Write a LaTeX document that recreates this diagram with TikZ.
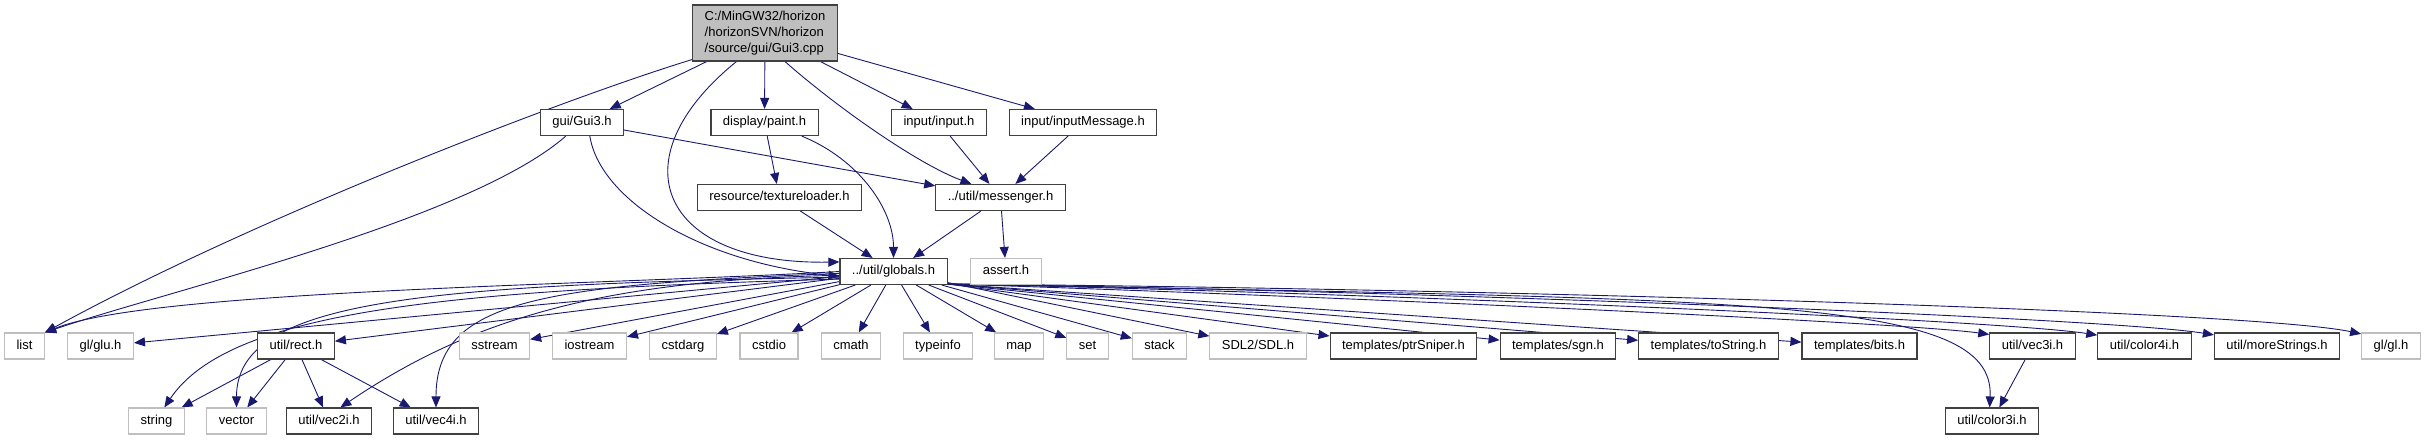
\documentclass[tikz,border=0pt]{standalone}
\usepackage{fontspec}
\setmainfont{Liberation Sans}
\usetikzlibrary{arrows.meta,backgrounds}
\definecolor{edgeblue}{RGB}{25,25,112}
\definecolor{boxgray}{RGB}{191,191,191}
\definecolor{boxedge}{RGB}{64,64,64}

\begin{document}
\begin{tikzpicture}[x=1pt,y=1pt,
    hdr/.style={draw=boxedge, fill=white, line width=1.1pt, minimum height=26pt, inner xsep=12pt, inner ysep=0pt, font=\fontsize{13}{16}\selectfont, text height=9.5pt, text depth=2.8pt},
    sys/.style={hdr, draw=boxgray},
    src/.style={draw=boxedge, fill=boxgray, line width=1.1pt, minimum width=144pt, minimum height=56pt, inner xsep=12pt, align=left, font=\fontsize{13}{16}\selectfont},
    dep/.style={edgeblue, line width=0.9pt, -{Triangle[length=11pt,width=9pt]}}]
  \useasboundingbox (0,0) rectangle (2425,-440);
  % file and its direct headers
  \node[src] (cpp) at (765,-33) {C:/MinGW32/horizon\\/horizonSVN/horizon\\/source/gui/Gui3.cpp};
  \node[hdr] (gui) at (582,-122.5) {gui/Gui3.h};
  \node[hdr] (paint) at (764.5,-122.5) {display/paint.h};
  \node[hdr] (input) at (939,-122.5) {input/input.h};
  \node[hdr] (inputmsg) at (1083,-122.5) {input/inputMessage.h};
  \node[hdr] (texload) at (779.5,-197.5) {resource/textureloader.h};
  \node[hdr] (messenger) at (1000.5,-197.5) {../util/messenger.h};
  \node[hdr] (globals) at (893.5,-271.5) {../util/globals.h};
  \node[sys] (assert) at (1006,-271.5) {assert.h};
  % row under globals.h
  \node[sys] (list) at (24.5,-346) {list};
  \node[sys] (glu) at (100.5,-346) {gl/glu.h};
  \node[hdr] (rect) at (296,-346) {util/rect.h};
  \foreach \nm/\x in {sstream/494.5, iostream/589.5, cstdarg/683, cstdio/769, cmath/851, typeinfo/938, map/1019, set/1087.5, stack/1159.5}
    \node[sys] (\nm) at (\x,-346) {\nm};
  \node[sys] (sdl) at (1258,-346) {SDL2/SDL.h};
  \node[hdr] (ptrsniper) at (1403.5,-346) {templates/ptrSniper.h};
  \node[hdr] (sgn) at (1558,-346) {templates/sgn.h};
  \node[hdr] (tostring) at (1708.5,-346) {templates/toString.h};
  \node[hdr] (bits) at (1859.5,-346) {templates/bits.h};
  \node[hdr] (vec3i) at (2032.5,-346) {util/vec3i.h};
  \node[hdr] (color4i) at (2144.5,-346) {util/color4i.h};
  \node[hdr] (morestr) at (2277,-346) {util/moreStrings.h};
  \node[sys] (gl) at (2391,-346) {gl/gl.h};
  % bottom row
  \node[sys] (string) at (156.5,-421) {string};
  \node[sys] (vector) at (236.5,-421) {vector};
  \node[hdr] (vec2i) at (329,-421) {util/vec2i.h};
  \node[hdr] (vec4i) at (436,-421) {util/vec4i.h};
  \node[hdr] (color3i) at (1992,-421) {util/color3i.h};
  \begin{scope}[on background layer]
  % includes of Gui3.cpp
  \draw[dep] (cpp.200) .. controls (560,-100) and (250,-220) .. (list.north east);
  \draw[dep] (cpp) -- (gui);
  \draw[dep] (cpp.225) .. controls (615,-160) and (660,-265) .. (globals.170);
  \draw[dep] (cpp) -- (paint);
  \draw[dep] (cpp.-55) .. controls (840,-110) and (920,-165) .. (messenger.155);
  \draw[dep] (cpp) -- (input);
  \draw[dep] (cpp) -- (inputmsg);
  % second level
  \draw[dep] (gui) -- (messenger);
  \draw[dep] (gui.220) .. controls (470,-220) and (170,-290) .. (list.north east);
  \draw[dep] (gui.-60) .. controls (600,-200) and (700,-262) .. (globals.185);
  \draw[dep] (paint) -- (texload);
  \draw[dep] (paint.-20) .. controls (860,-160) and (893.5,-210) .. (globals.north);
  \draw[dep] (texload) -- (globals);
  \draw[dep] (input) -- (messenger);
  \draw[dep] (inputmsg) -- (messenger);
  \draw[dep] (messenger) -- (globals);
  \draw[dep] (messenger) -- (assert);
  % globals.h fan
  \draw[dep] (globals.west) .. controls (600,-285) and (150,-290) .. (list.north east);
  \foreach \t in {glu,rect,sstream,iostream,cstdarg,cstdio,cmath,typeinfo,map,set,stack,sdl}
    \draw[dep] (globals) -- (\t);
  \foreach \t in {ptrsniper,sgn,tostring,bits}
    \draw[dep] (globals.-13) -- (\t);
  \draw[dep] (globals.-13) .. controls (1300,-295) and (1900,-322) .. (vec3i.165);
  \draw[dep] (globals.-13) .. controls (1350,-292) and (2000,-320) .. (color4i.167);
  \draw[dep] (globals.-13) .. controls (1400,-290) and (2110,-318) .. (morestr.170);
  \draw[dep] (globals.-13) .. controls (1450,-288) and (2250,-310) .. (gl.158);
  \draw[dep] (globals.188) .. controls (450,-290) and (230,-310) .. (string.60);
  \draw[dep] (globals.186) .. controls (420,-285) and (236.5,-300) .. (vector.north);
  \draw[dep] (globals.184) .. controls (600,-280) and (470,-320) .. (vec2i.50);
  \draw[dep] (globals.182) .. controls (540,-285) and (436,-300) .. (vec4i.north);
  \draw[dep] (globals.-13) .. controls (1750,-300) and (1995,-295) .. (color3i.100);
  % rect.h and vec3i.h
  \foreach \t in {string,vector,vec2i,vec4i}
    \draw[dep] (rect) -- (\t);
  \draw[dep] (vec3i) -- (color3i);
  \end{scope}
\end{tikzpicture}
\end{document}
